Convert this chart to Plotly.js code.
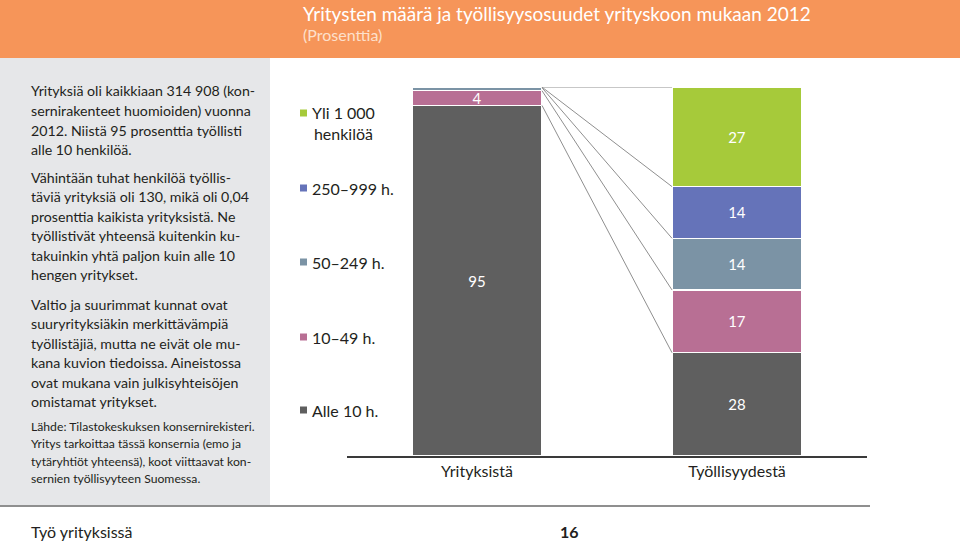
<!DOCTYPE html>
<html>
<head>
<meta charset="utf-8">
<script src="https://cdn.plot.ly/plotly-3.0.1.min.js"></script>
<style>html,body{margin:0;padding:0;background:#fff;}#chart{width:960px;height:545px;}</style>
</head>
<body>
<div id="chart"></div>
<script>
// ---- data ----
const categories = ['Yrityksistä', 'Työllisyydestä'];
const seriesNames = ['Alle 10 h.', '10–49 h.', '50–249 h.', '250–999 h.', 'Yli 1 000 henkilöä'];
const legendLabels = ['Alle 10 h.', '10–49 h.', '50–249 h.', '250–999 h.', 'Yli 1 000<br>henkilöä'];
const alle10 = [95, 28];
const h10to49 = [4, 17];
const h50to249 = [0.8, 14];
const h250to999 = [0.16, 14];
const yli1000 = [0.04, 27];
const titleText = 'Yritysten määrä ja työllisyysosuudet yrityskoon mukaan 2012';
const subtitleText = '(Prosenttia)';
const para1 = ['Yrityksiä oli kaikkiaan 314 908 (kon-', 'sernirakenteet huomioiden) vuonna', '2012. Niistä 95 prosenttia työllisti', 'alle 10 henkilöä.'];
const para2 = ['Vähintään tuhat henkilöä työllis-', 'täviä yrityksiä oli 130, mikä oli 0,04', 'prosenttia kaikista yrityksistä. Ne', 'työllistivät yhteensä kuitenkin ku-', 'takuinkin yhtä paljon kuin alle 10', 'hengen yritykset.'];
const para3 = ['Valtio ja suurimmat kunnat ovat', 'suuryrityksiäkin merkittävämpiä', 'työllistäjiä, mutta ne eivät ole mu-', 'kana kuvion tiedoissa. Aineistossa', 'ovat mukana vain julkisyhteisöjen', 'omistamat yritykset.'];
const sourceLines = ['Lähde: Tilastokeskuksen konsernirekisteri.', 'Yritys tarkoittaa tässä konsernia (emo ja', 'tytäryhtiöt yhteensä), koot viittaavat kon-', 'sernien työllisyyteen Suomessa.'];
const footerLeft = 'Työ yrityksissä';
const footerPage = '16';

// ---- style ----
const colors = ['#5f5f5f', '#b86f94', '#7b93a5', '#6573b9', '#a6ca3a'];
const FONT = 'Lato, "Liberation Sans", sans-serif';
const TXT = '#231f20';
const L = 347, R = 867, T = 87, B = 456;
const px = x => (x - L) / (R - L);
const py = y => (B - y) / (B - T);

const series = [alle10, h10to49, h50to249, h250to999, yli1000];
const xpos = [0, 1];

const traces = series.map((vals, i) => ({
  type: 'bar',
  name: seriesNames[i],
  x: xpos,
  y: vals,
  width: 0.5,
  marker: {color: colors[i], line: {color: '#ffffff', width: 1.5}},
  text: vals.map(v => v >= 1 ? String(Math.round(v)) : ''),
  textposition: 'inside',
  insidetextanchor: 'middle',
  constraintext: 'none',
  textangle: 0,
  textfont: {family: FONT, size: 15, color: '#ffffff'},
  hoverinfo: 'skip',
  showlegend: false
}));

// connector lines between cumulative boundaries
const cum = [[0, 0], [0, 0], [0, 0], [0, 0], [0, 0]];
series.forEach((vals, i) => {
  vals.forEach((v, j) => { cum[i][j] = (i > 0 ? cum[i - 1][j] : 0) + v; });
});
cum.forEach((c) => {
  traces.push({
    type: 'scatter', mode: 'lines',
    x: [0.25, 0.75], y: [c[0], c[1]],
    line: {color: '#8f8f8f', width: 1},
    hoverinfo: 'skip', showlegend: false
  });
});

const annotations = [];
const shapes = [];
// header and side panel
shapes.push({type: 'rect', xref: 'paper', yref: 'paper', x0: px(0), x1: px(960), y0: py(58), y1: py(0), fillcolor: '#f69559', line: {width: 0}, layer: 'below'});
shapes.push({type: 'rect', xref: 'paper', yref: 'paper', x0: px(0), x1: px(270), y0: py(505), y1: py(58), fillcolor: '#e6e7e9', line: {width: 0}, layer: 'below'});
shapes.push({type: 'line', xref: 'paper', yref: 'paper', x0: px(0), x1: px(870), y0: py(506), y1: py(506), line: {color: '#8f8f8f', width: 2}});

function addText(text, x, y, size, color, opts) {
  annotations.push(Object.assign({
    text: text, xref: 'paper', yref: 'paper', x: px(x), y: py(y),
    xanchor: 'left', yanchor: 'middle', showarrow: false,
    font: {family: FONT, size: size, color: color}
  }, opts || {}));
}

addText(titleText, 301, 13, 19, '#ffffff');
addText(subtitleText, 301, 34, 16, '#fde0cc');

const paraStarts = [[para1, 91], [para2, 177], [para3, 304]];
paraStarts.forEach(([lines, y0]) => {
  lines.forEach((ln, k) => addText(ln, 29, y0 + k * 19.5, 14.2, TXT));
});
sourceLines.forEach((ln, k) => addText(ln, 29, 426 + k * 17.5, 12.2, TXT));

// legend (custom)
const legendY = [410, 337, 262, 188, 123];
const squareY = [410, 337, 262, 188, 113];
legendLabels.forEach((lab, i) => {
  addText(lab, 310, legendY[i], 16, TXT);
  shapes.push({type: 'rect', xref: 'paper', yref: 'paper', x0: px(300), x1: px(307), y0: py(squareY[i] + 3.5), y1: py(squareY[i] - 3.5), fillcolor: colors[i], line: {width: 0}});
});

addText(footerLeft, 29, 531, 16, TXT);
addText(footerPage, 569, 531, 16, TXT, {xanchor: 'center', font: {family: FONT, size: 16, color: TXT, weight: 'bold'}});

const layout = {
  width: 960, height: 545,
  margin: {l: L, r: 960 - R, t: T, b: 545 - B, pad: 0},
  paper_bgcolor: '#ffffff', plot_bgcolor: 'rgba(0,0,0,0)',
  barmode: 'stack', bargap: 0,
  showlegend: false,
  font: {family: FONT, color: TXT},
  xaxis: {
    range: [-0.5, 1.5], tickvals: xpos, ticktext: categories,
    showgrid: false, zeroline: false, showline: true, linecolor: '#3a3a3a', linewidth: 1.5,
    ticks: '', tickfont: {family: FONT, size: 16, color: TXT}, fixedrange: true
  },
  yaxis: {range: [0, 100], visible: false, fixedrange: true},
  annotations: annotations,
  shapes: shapes
};

Plotly.newPlot('chart', traces, layout, {displayModeBar: false, staticPlot: true});
</script>
</body>
</html>
